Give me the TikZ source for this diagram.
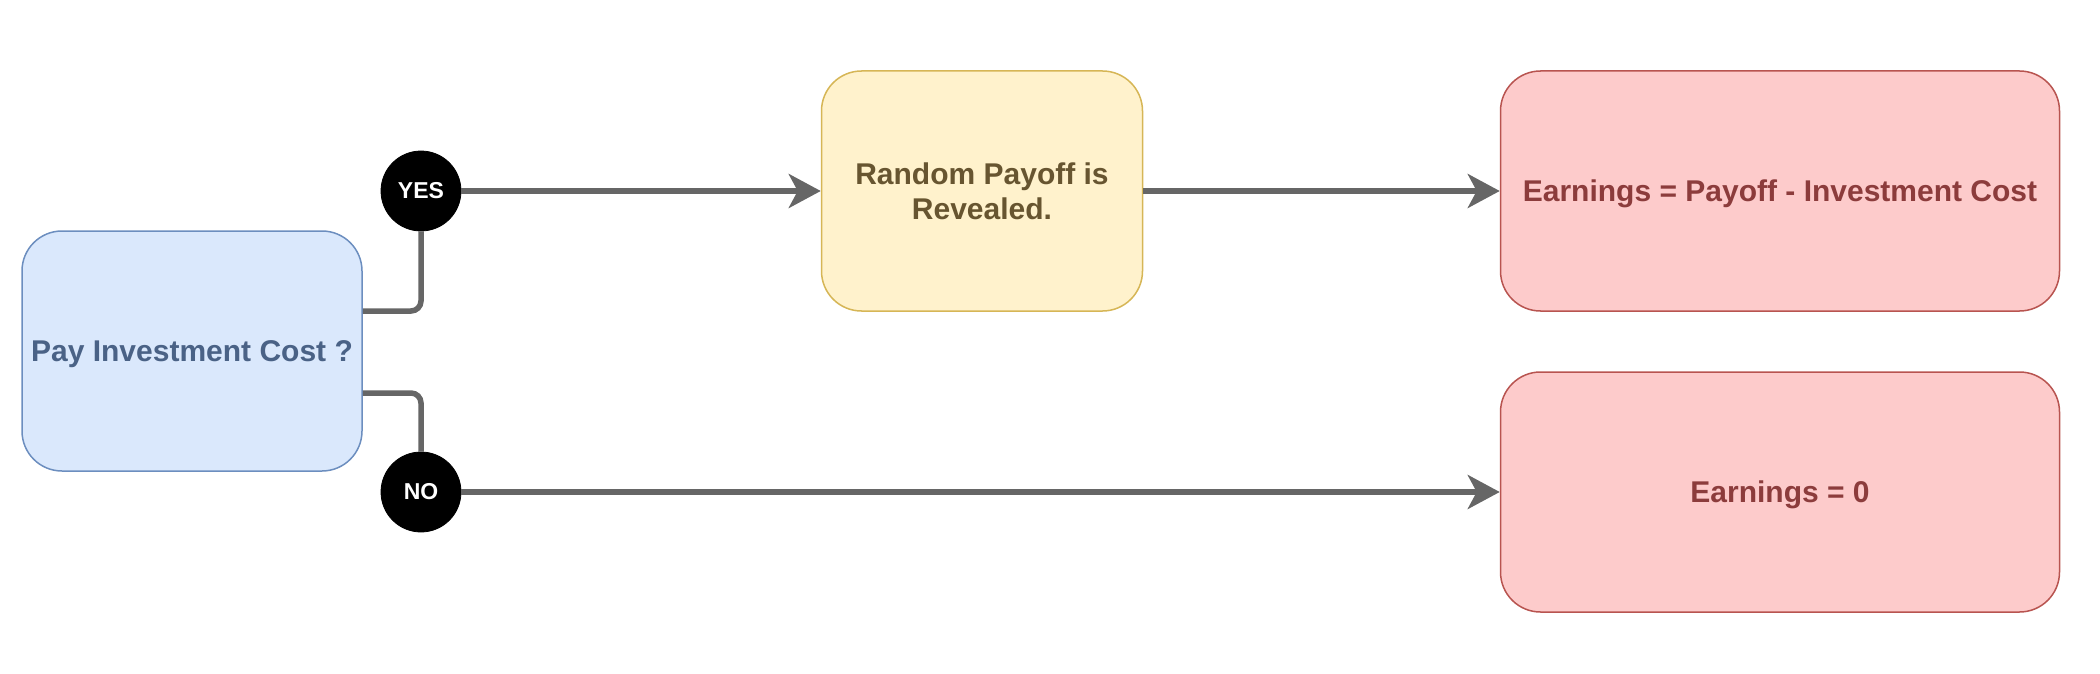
\documentclass[tikz,border=0pt]{standalone}
\usepackage{fontspec}
\setmainfont{Liberation Sans}
\usetikzlibrary{arrows.meta}
\definecolor{bfill}{HTML}{DAE8FC}
\definecolor{bstroke}{HTML}{6C8EBF}
\definecolor{btext}{HTML}{4A6286}
\definecolor{yfill}{HTML}{FFF2CC}
\definecolor{ystroke}{HTML}{D6B656}
\definecolor{ytext}{HTML}{675530}
\definecolor{rfill}{HTML}{FDCBCB}
\definecolor{rstroke}{HTML}{B85450}
\definecolor{rtext}{HTML}{8C3C3C}
\definecolor{lgray}{HTML}{666666}
\begin{document}
\begin{tikzpicture}[x=0.5pt,y=-0.5pt,
  box/.style={draw, line width=0.75pt, rounded corners=20pt, inner sep=0pt, align=center,
    font=\fontsize{15}{17.5}\selectfont\bfseries, minimum height=120pt},
  bluebox/.style={box, fill=bfill, draw=bstroke, text=btext, minimum width=170pt, text depth=0pt},
  yellowbox/.style={box, fill=yfill, draw=ystroke, text=ytext, minimum width=160.5pt},
  redbox/.style={box, fill=rfill, draw=rstroke, text=rtext, minimum width=279.5pt, text depth=0pt},
  dot/.style={circle, fill=black, draw=black, minimum size=40pt, inner sep=0pt, text=white,
    font=\fontsize{11.5}{12}\selectfont\bfseries},
  conn/.style={draw=lgray, line width=2.75pt, rounded corners=5pt},
  arr/.style={draw=lgray, line width=2.75pt, -{Stealth[length=16pt,width=17pt,inset=4.5pt]}}
]
\useasboundingbox (0,0) rectangle (2100,674);
\node[bluebox] (pay) at (192,351) {Pay Investment Cost ?};
\node[dot] (yes) at (421,191) {YES};
\node[dot] (no) at (421,492) {NO};
\node[yellowbox] (rand) at (982,191) {Random Payoff is\\Revealed.};
\node[redbox] (earn) at (1780,191) {Earnings = Payoff - Investment Cost};
\node[redbox] (zero) at (1780,492) {Earnings = 0};
\draw[conn] ([yshift=20pt]pay.east) -| (yes.south);
\draw[conn] ([yshift=-21pt]pay.east) -| (no.north);
\draw[arr] (yes) -- (rand);
\draw[arr] (rand) -- (earn);
\draw[arr] (no) -- (zero);
\end{tikzpicture}
\end{document}
